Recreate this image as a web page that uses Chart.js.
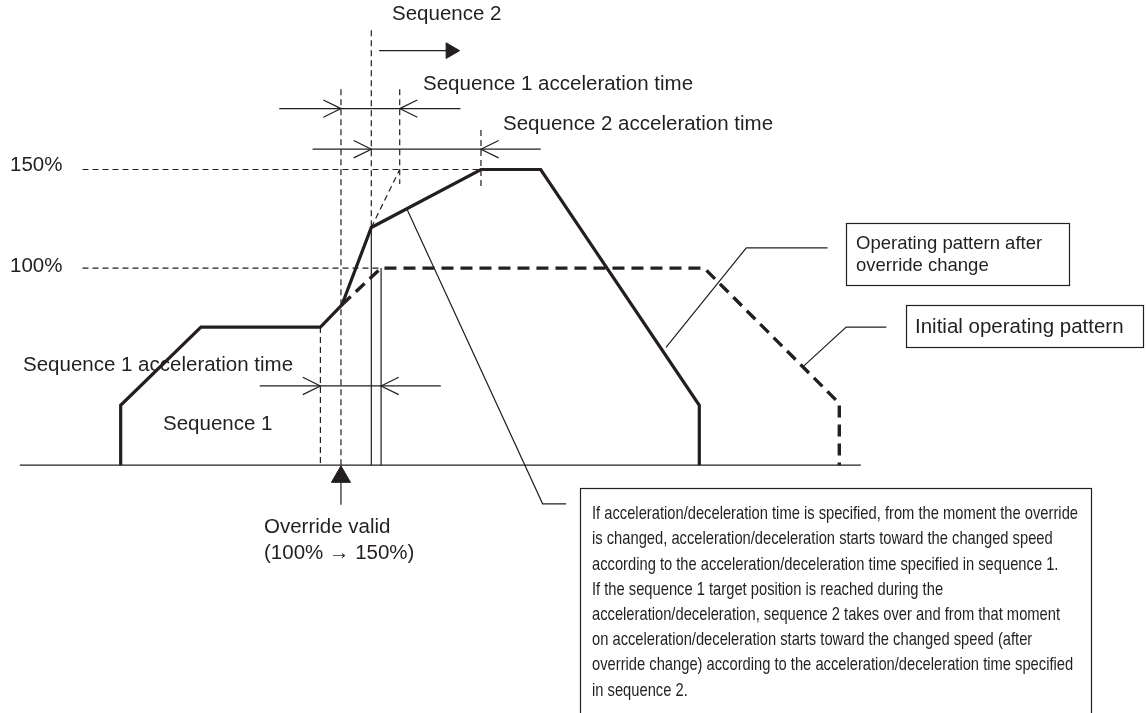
<!DOCTYPE html>
<html>
<head>
<meta charset="utf-8">
<script src="https://cdn.jsdelivr.net/npm/chart.js@4.4.0/dist/chart.umd.min.js"></script>
<style>
  html, body { margin: 0; background: #fff; }
  canvas { display: block; }
</style>
</head>
<body>
<canvas id="chart" width="1146" height="713"></canvas>
<script>
// time in drawing units, speed in % of the command speed
const afterTime = [111, 111, 193, 315, 337, 367, 479, 540, 702, 702];
const afterSpeed = [0, 30.4, 70.1, 70.1, 81.4, 120.6, 150, 150, 30.4, 0];
const initialTime = [337, 377, 707, 845, 845];
const initialSpeed = [81.4, 100, 100, 31.4, 0];
const speedTicks = ['100%', '150%'];
const speedTickValues = [100, 150];

const overrideTime = 336;
const seq2Start = 367;
const seq1AccelTop = [336, 396];
const seq2Accel = [367, 479];
const seq1AccelBottom = [315, 377];

const boxText = [
  'If acceleration/deceleration time is specified, from the moment the override',
  'is changed, acceleration/deceleration starts toward the changed speed',
  'according to the acceleration/deceleration time specified in sequence 1.',
  'If the sequence 1 target position is reached during the',
  'acceleration/deceleration, sequence 2 takes over and from that moment',
  'on acceleration/deceleration starts toward the changed speed (after',
  'override change) according to the acceleration/deceleration time specified',
  'in sequence 2.'
];

const INK = '#231f20';
const pts = (xs, ys) => xs.map((x, i) => ({ x: x, y: ys[i] }));

function seg(points, opts) {
  return Object.assign({
    type: 'line',
    data: points,
    borderColor: INK,
    borderWidth: 1.2,
    pointRadius: 0,
    tension: 0,
    fill: false
  }, opts || {});
}
const dash = { borderDash: [6, 4] };

// open arrow head, dir = 1 points right, -1 points left
function openHead(x, y, dir) {
  return seg([{ x: x - dir * 18, y: y + 4.4 }, { x: x, y: y }, { x: x - dir * 18, y: y - 4.4 }]);
}

const datasets = [
  // patterns
  seg(pts(afterTime, afterSpeed), { borderWidth: 3.2 }),
  seg(pts(initialTime, initialSpeed), { borderWidth: 3.4, borderDash: [12, 7] }),
  // baseline
  seg([{ x: 8, y: 0 }, { x: 867, y: 0 }]),
  // speed reference lines
  seg([{ x: 72, y: speedTickValues[1] }, { x: seq2Accel[1], y: speedTickValues[1] }], dash),
  seg([{ x: 72, y: speedTickValues[0] }, { x: initialTime[1], y: speedTickValues[0] }], dash),
  // verticals
  seg([{ x: seq1AccelBottom[0], y: afterSpeed[3] }, { x: seq1AccelBottom[0], y: 0 }], dash),
  seg([{ x: overrideTime, y: 190.7 }, { x: overrideTime, y: 0 }], dash),
  seg([{ x: seq2Start, y: 220.6 }, { x: seq2Start, y: afterSpeed[5] }], dash),
  seg([{ x: seq2Start, y: afterSpeed[5] }, { x: seq2Start, y: 0 }]),
  seg([{ x: initialTime[1], y: 100 }, { x: initialTime[1], y: 0 }]),
  seg([{ x: seq1AccelTop[1], y: 190.7 }, { x: seq1AccelTop[1], y: 142.6 }], dash),
  seg([{ x: seq2Accel[1], y: 170.1 }, { x: seq2Accel[1], y: 140.2 }], dash),
  seg([{ x: seq2Start, y: afterSpeed[5] }, { x: seq1AccelTop[1], y: 150 }], dash),
  // dimension lines
  seg([{ x: 273, y: 180.9 }, { x: 458, y: 180.9 }]),
  openHead(seq1AccelTop[0], 180.9, 1),
  openHead(seq1AccelTop[1], 180.9, -1),
  seg([{ x: 307, y: 160.3 }, { x: 540, y: 160.3 }]),
  openHead(seq2Accel[0], 160.3, 1),
  openHead(seq2Accel[1], 160.3, -1),
  seg([{ x: 253, y: 40.2 }, { x: 438, y: 40.2 }]),
  openHead(seq1AccelBottom[0], 40.2, 1),
  openHead(seq1AccelBottom[1], 40.2, -1),
  // leaders
  seg([{ x: 833, y: 110.3 }, { x: 750, y: 110.3 }, { x: 668, y: 59.8 }]),
  seg([{ x: 893, y: 70.1 }, { x: 852, y: 70.1 }, { x: 808, y: 50 }]),
  seg([{ x: 403, y: 130.4 }, { x: 542, y: -19.6 }, { x: 566, y: -19.6 }]),
  // sequence 2 arrow
  seg([{ x: 375, y: 210.3 }, { x: 444, y: 210.3 }]),
  { type: 'scatter', data: [{ x: 448, y: 210.3 }], pointStyle: 'triangle', rotation: 90,
    pointRadius: 9, backgroundColor: INK, borderColor: INK, borderWidth: 1 },
  // override valid arrow
  seg([{ x: overrideTime, y: -8 }, { x: overrideTime, y: -20.1 }]),
  { type: 'scatter', data: [{ x: overrideTime, y: -5.9 }], pointStyle: 'triangle', rotation: 0,
    pointRadius: 11, backgroundColor: INK, borderColor: INK, borderWidth: 1 }
];

const labels = [
  { t: 'Sequence 2', x: 392, y: 14 },
  { t: 'Sequence 1 acceleration time', x: 423, y: 84 },
  { t: 'Sequence 2 acceleration time', x: 503, y: 124 },
  { t: speedTicks[1], x: 10, y: 165 },
  { t: speedTicks[0], x: 10, y: 266 },
  { t: 'Sequence 1 acceleration time', x: 23, y: 365 },
  { t: 'Sequence 1', x: 163, y: 424 },
  { t: 'Override valid', x: 264, y: 527 },
  { t: '(100% \u2192 150%)', x: 264, y: 553 },
  { t: 'Initial operating pattern', x: 915, y: 327 }
];

const notes = {
  id: 'notes',
  afterDatasetsDraw(chart) {
    const ctx = chart.ctx;
    ctx.save();
    ctx.fillStyle = INK;
    ctx.strokeStyle = INK;
    ctx.textBaseline = 'middle';
    ctx.font = '20.5px "Liberation Sans", Arial, sans-serif';
    labels.forEach(l => ctx.fillText(l.t, l.x, l.y));

    ctx.lineWidth = 1.2;
    ctx.strokeRect(846.5, 223.5, 223, 62);
    ctx.strokeRect(906.5, 305.5, 237, 42);
    ctx.strokeRect(580.5, 488.5, 511, 240);

    ctx.font = '18.5px "Liberation Sans", Arial, sans-serif';
    ctx.fillText('Operating pattern after', 856, 244);
    ctx.fillText('override change', 856, 266);

    // condensed note text
    ctx.font = '19px "Liberation Sans", Arial, sans-serif';
    const sx = 486 / ctx.measureText(boxText[0]).width;
    ctx.translate(592, 0);
    ctx.scale(sx, 1);
    boxText.forEach((line, i) => ctx.fillText(line, 0, 514 + i * 25.2));
    ctx.restore();
  }
};

new Chart(document.getElementById('chart'), {
  data: { datasets: datasets },
  options: {
    responsive: false,
    animation: false,
    layout: { padding: 0 },
    plugins: { legend: { display: false }, tooltip: { enabled: false } },
    scales: {
      x: { type: 'linear', min: 0, max: 1146, display: false },
      y: { type: 'linear', min: -119.6, max: 229.9, display: false }
    }
  },
  plugins: [notes]
});
</script>
</body>
</html>
